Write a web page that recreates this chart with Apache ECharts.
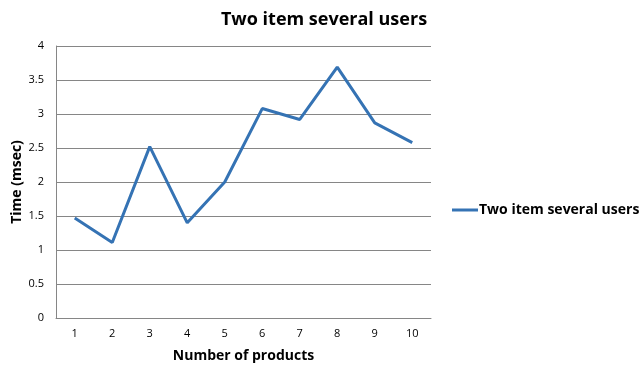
<!DOCTYPE html>
<html><head><meta charset="utf-8">
<script src="https://cdn.jsdelivr.net/npm/echarts@6/dist/echarts.min.js"></script>
<style>html,body{margin:0;padding:0;background:#fff}#c{width:641px;height:366px}</style>
</head><body><div id="c"></div>
<script>
var categories = ['1','2','3','4','5','6','7','8','9','10'];
var seriesName = 'Two item several users';
var values = [1.47, 1.11, 2.52, 1.40, 2.00, 3.08, 2.92, 3.69, 2.87, 2.58];
var yTicks = {min: 0, max: 4, interval: 0.5};

var chart = echarts.init(document.getElementById('c'));
var font = '"Open Sans", "Liberation Sans", sans-serif';
chart.setOption({
  animation: false,
  title: {text: 'Two item several users', left: 319, top: 6, textAlign: 'center',
    textStyle: {fontFamily: font, fontSize: 18, fontWeight: 'bold', color: '#000'}},
  legend: {data: [seriesName], left: 447, top: 198, itemWidth: 26, itemHeight: 3, itemGap: 4,
    icon: 'rect',
    textStyle: {fontFamily: font, fontSize: 14, fontWeight: 'bold', color: '#000', padding: [0,0,0,-4]}},
  grid: {left: 56, right: 210, top: 46, bottom: 48, containLabel: false, outerBoundsMode: 'none'},
  xAxis: {type: 'category', data: categories, boundaryGap: true,
    name: 'Number of products', nameLocation: 'middle', nameGap: 31, nameMoveOverlap: false,
    nameTextStyle: {fontFamily: font, fontSize: 14, fontWeight: 'bold', color: '#000'},
    axisLine: {lineStyle: {color: '#868686', width: 1}}, axisTick: {show: false},
    axisLabel: {fontFamily: font, fontSize: 11, color: '#000', margin: 10}},
  yAxis: {type: 'value', min: yTicks.min, max: yTicks.max, interval: yTicks.interval,
    name: 'Time (msec)', nameLocation: 'middle', nameGap: 32, nameRotate: 90, nameMoveOverlap: false,
    nameTextStyle: {fontFamily: font, fontSize: 14, fontWeight: 'bold', color: '#000'},
    axisLine: {show: true, lineStyle: {color: '#868686', width: 1}}, axisTick: {show: false},
    axisLabel: {fontFamily: font, fontSize: 11, color: '#000', margin: 12},
    splitLine: {lineStyle: {color: '#868686', width: 1}}},
  series: [{name: seriesName, type: 'line', data: values, showSymbol: false, symbol: 'none',
    lineStyle: {color: '#3573b4', width: 3}, itemStyle: {color: '#3573b4'}}]
});
</script></body></html>
